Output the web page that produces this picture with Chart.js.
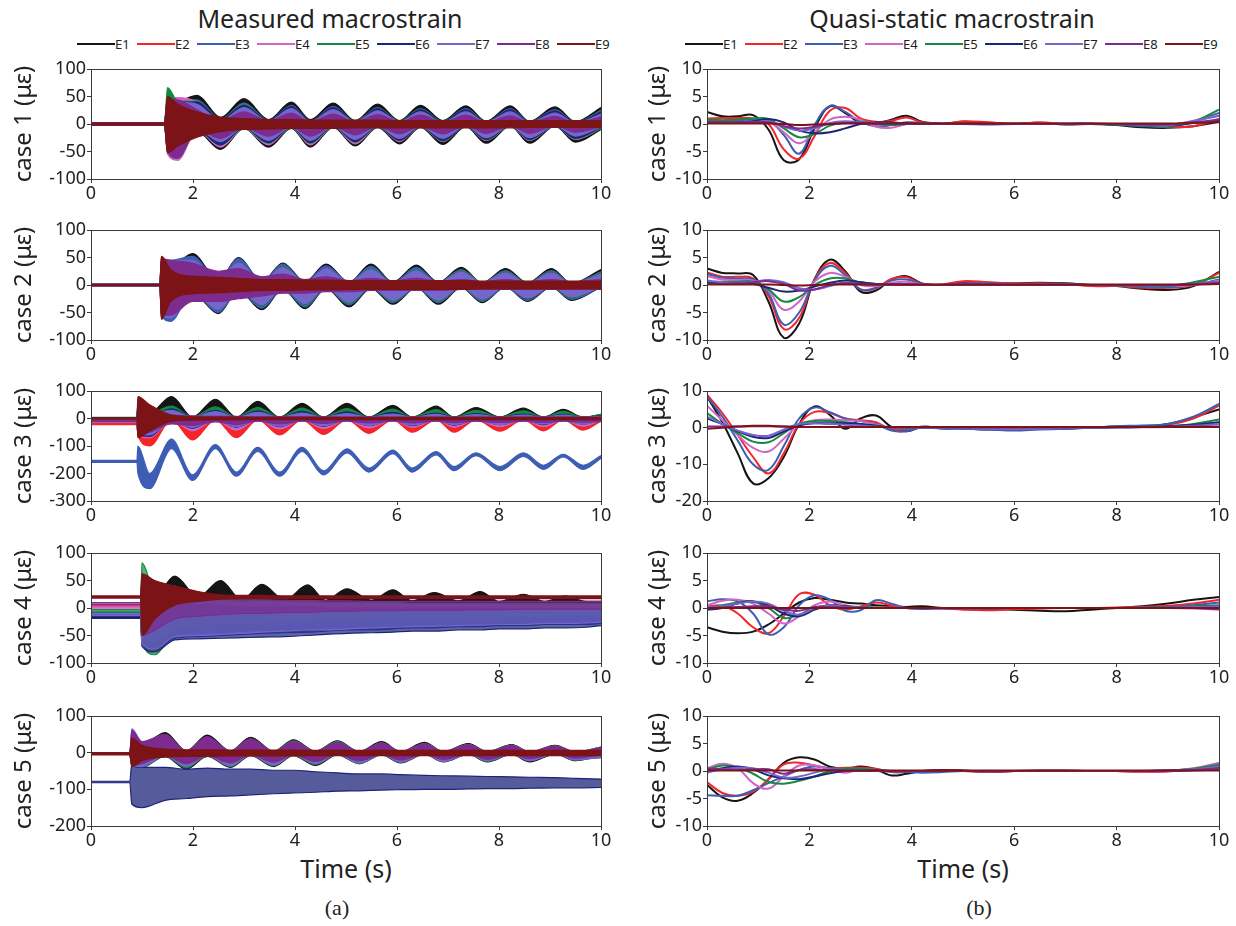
<!DOCTYPE html>
<html>
<head>
<meta charset="utf-8">
<script src="https://cdn.jsdelivr.net/npm/chart.js@4.4.1/dist/chart.umd.min.js"></script>
<style>
  body { margin: 0; width: 1236px; height: 926px; background: #fff; position: relative; overflow: hidden;
         font-family: "Noto Sans", sans-serif; color: #222; }
  .txt { position: absolute; white-space: nowrap; transform: translate(-50%, -50%); }
  .head { font-size: 25px; }
  .cap { font-family: "Liberation Serif", serif; font-size: 22px; }
  .legend { position: absolute; display: flex; align-items: center; font-size: 13px; height: 16px; }
  .legend .ln { display: inline-block; width: 38px; height: 2px; }
  .legend .lb { display: inline-block; width: 22px; text-align: left; line-height: 16px; }
  .pane { position: absolute; }
</style>
</head>
<body>
<div class="txt head" style="left:330px;top:18px">Measured macrostrain</div>
<div class="txt head" style="left:952px;top:18px">Quasi-static macrostrain</div>
<div class="legend" id="legA" style="left:77px;top:36px"></div>
<div class="legend" id="legB" style="left:685px;top:36px"></div>
<div class="txt head" style="left:346px;top:868px">Time (s)</div>
<div class="txt head" style="left:963px;top:868px">Time (s)</div>
<div class="txt cap" style="left:337px;top:908px">(a)</div>
<div class="txt cap" style="left:979px;top:908px">(b)</div>

<script>
const series = ['E1', 'E2', 'E3', 'E4', 'E5', 'E6', 'E7', 'E8', 'E9'];
const colors = ['#151515', '#f4262a', '#3d5db4', '#d264c6', '#158a3e', '#1d2479', '#7466cb', '#7e2b8f', '#7c1316'];
const caseNames = ['case 1 (με)', 'case 2 (με)', 'case 3 (με)', 'case 4 (με)', 'case 5 (με)'];

// measured macrostrain: envelope of each record (upper / lower)
const mTime1 = [0, 1.44, 1.5, 1.7, 2.08, 2.54, 3.0, 3.48, 3.93, 4.3, 4.75, 5.18, 5.62, 6.05, 6.46, 6.9, 7.35, 7.75, 8.22, 8.6, 9.1, 9.5, 10];
const mHi1 = [
  [2, 2, 48, 42, 52, 12, 46, 8, 40, 8, 38, 6, 36, 6, 34, 6, 33, 5, 33, 5, 31, 4, 30],
  [2, 2, 40, 30, 22, 4, 20, 3, 18, 3, 18, 3, 16, 3, 16, 2, 16, 2, 16, 2, 14, 2, 14],
  [2, 2, 50, 44, 44, 8, 38, 6, 34, 5, 32, 4, 30, 4, 28, 4, 28, 3, 28, 3, 26, 3, 25],
  [2, 2, 48, 48, 40, 8, 36, 5, 32, 5, 30, 4, 28, 4, 26, 4, 26, 3, 26, 3, 24, 3, 22],
  [2, 2, 66, 42, 41, 9, 36, 6, 32, 5, 30, 5, 28, 5, 27, 5, 26, 4, 26, 4, 24, 3, 23],
  [2, 2, 45, 40, 40, 8, 34, 6, 32, 5, 30, 4, 28, 4, 26, 4, 26, 3, 26, 3, 24, 3, 22],
  [2, 2, 45, 40, 36, 6, 30, 5, 28, 4, 26, 4, 24, 4, 22, 3, 22, 3, 22, 3, 20, 2, 18],
  [2, 2, 45, 44, 26, 6, 22, 5, 20, 4, 18, 4, 17, 4, 16, 3, 16, 3, 15, 3, 14, 2, 13],
  [2, 2, 50, 36, 22, 12, 10, 8, 8, 7, 7, 7, 7, 6, 6, 6, 6, 6, 6, 6, 6, 6, 6]
];
const mLo1 = [
  [-2, -2, -52, -60, -14, -46, -8, -42, -8, -42, -6, -40, -6, -36, -6, -37, -5, -35, -4, -35, -4, -33, -10],
  [-2, -2, -40, -40, -6, -22, -4, -20, -4, -20, -3, -18, -3, -16, -3, -18, -3, -16, -2, -16, -2, -15, -4],
  [-2, -2, -50, -58, -12, -40, -8, -36, -6, -36, -5, -34, -4, -30, -4, -30, -4, -30, -3, -30, -3, -28, -8],
  [-2, -2, -55, -66, -12, -42, -8, -38, -6, -38, -5, -36, -5, -32, -5, -32, -4, -30, -4, -30, -3, -28, -8],
  [-2, -2, -50, -62, -12, -38, -8, -35, -6, -35, -5, -33, -5, -30, -5, -31, -4, -29, -4, -29, -3, -27, -8],
  [-2, -2, -48, -55, -10, -38, -6, -34, -5, -34, -4, -32, -4, -30, -4, -30, -4, -28, -3, -28, -3, -26, -6],
  [-2, -2, -45, -55, -10, -32, -6, -30, -5, -30, -4, -28, -4, -26, -4, -26, -3, -25, -3, -25, -3, -22, -5],
  [-2, -2, -48, -62, -10, -26, -6, -22, -5, -22, -4, -20, -4, -18, -4, -18, -3, -17, -3, -17, -3, -15, -5],
  [-2, -2, -52, -40, -24, -14, -10, -9, -8, -8, -8, -7, -7, -7, -7, -7, -7, -7, -7, -6, -6, -6, -6]
];

const mTime2 = [0, 1.35, 1.38, 1.56, 1.99, 2.5, 2.89, 3.35, 3.76, 4.2, 4.61, 5.06, 5.49, 5.92, 6.38, 6.81, 7.26, 7.67, 8.13, 8.56, 9.03, 9.42, 10];
const mHi2 = [
  [1, 1, 20, 30, 57, 8, 50, 6, 40, 6, 38, 5, 38, 5, 36, 5, 32, 4, 30, 4, 30, 3, 28],
  [1, 1, 52, 30, 25, 4, 20, 3, 18, 3, 16, 3, 16, 3, 14, 3, 14, 2, 14, 2, 12, 2, 12],
  [1, 1, 45, 45, 52, 8, 48, 6, 38, 5, 35, 5, 34, 4, 32, 4, 28, 4, 26, 3, 26, 3, 24],
  [1, 1, 40, 40, 40, 6, 36, 5, 30, 5, 28, 4, 26, 4, 24, 4, 22, 3, 22, 3, 20, 3, 18],
  [1, 1, 42, 40, 45, 6, 40, 5, 34, 5, 30, 4, 30, 4, 28, 4, 26, 3, 24, 3, 24, 3, 22],
  [1, 1, 40, 40, 42, 6, 38, 5, 32, 4, 30, 4, 28, 4, 26, 4, 24, 3, 22, 3, 22, 3, 20],
  [1, 1, 45, 45, 45, 8, 40, 6, 32, 5, 30, 5, 28, 4, 26, 4, 24, 4, 22, 3, 22, 3, 20],
  [1, 1, 48, 45, 40, 25, 30, 15, 20, 10, 15, 8, 12, 8, 12, 7, 10, 6, 10, 6, 10, 6, 10],
  [1, 1, 52, 28, 16, 14, 12, 10, 10, 9, 9, 8, 8, 8, 8, 8, 8, 7, 7, 7, 7, 7, 7]
];
const mLo2 = [
  [-1, -1, -30, -60, -15, -52, -10, -45, -8, -43, -6, -40, -6, -35, -5, -35, -5, -32, -4, -30, -4, -28, -4],
  [-1, -1, -62, -50, -6, -30, -4, -22, -3, -20, -3, -20, -3, -18, -3, -18, -2, -16, -2, -16, -2, -14, -3],
  [-1, -1, -55, -66, -14, -50, -10, -42, -8, -40, -6, -36, -5, -32, -5, -32, -4, -30, -4, -28, -3, -26, -4],
  [-1, -1, -50, -55, -12, -40, -8, -34, -6, -32, -5, -30, -5, -28, -4, -28, -4, -25, -3, -24, -3, -22, -3],
  [-1, -1, -50, -58, -12, -44, -8, -38, -6, -36, -5, -34, -5, -30, -4, -30, -4, -28, -3, -26, -3, -24, -3],
  [-1, -1, -48, -55, -12, -42, -8, -36, -6, -34, -5, -32, -4, -28, -4, -28, -3, -26, -3, -25, -3, -22, -3],
  [-1, -1, -50, -60, -14, -44, -8, -36, -6, -34, -5, -32, -4, -28, -4, -28, -3, -26, -3, -24, -3, -22, -3],
  [-1, -1, -55, -55, -30, -30, -25, -20, -15, -15, -12, -12, -10, -10, -10, -10, -8, -8, -8, -8, -8, -8, -8],
  [-1, -1, -62, -30, -16, -14, -12, -10, -10, -9, -9, -8, -8, -8, -8, -8, -8, -7, -7, -7, -7, -7, -7]
];

const mTime3 = [0, 0.9, 0.92, 1.15, 1.58, 1.99, 2.44, 2.85, 3.27, 3.7, 4.14, 4.56, 5.02, 5.45, 5.92, 6.3, 6.77, 7.12, 7.55, 8.02, 8.48, 8.87, 9.26, 9.65, 10];
const mHi3 = [
  [3, 3, 40, 20, 80, 5, 70, 5, 62, 5, 55, 5, 55, 5, 48, 5, 45, 5, 40, 5, 38, 5, 33, 5, 15],
  [-18, -18, 10, -10, 5, -5, 5, -5, 5, -5, 5, -5, 5, -5, 5, -5, 5, -5, 5, -5, 5, -5, 5, -5, 0],
  [-152, -152, -100, -200, -75, -205, -95, -195, -105, -195, -105, -190, -110, -180, -115, -180, -120, -175, -125, -175, -125, -170, -130, -170, -135],
  [-8, -8, 40, 0, 20, 0, 15, 0, 12, 0, 10, 0, 10, 0, 8, 0, 8, 0, 8, 0, 6, 0, 6, 0, 5],
  [4, 4, 60, 20, 45, 5, 42, 5, 40, 5, 38, 5, 36, 5, 34, 5, 32, 5, 30, 5, 28, 5, 26, 5, 15],
  [2, 2, 50, 10, 35, 5, 30, 5, 28, 5, 26, 5, 24, 5, 22, 5, 20, 5, 18, 5, 16, 5, 15, 5, 10],
  [-6, -6, 45, 15, 30, 5, 25, 5, 22, 5, 20, 5, 18, 5, 16, 5, 15, 5, 14, 5, 12, 5, 12, 5, 8],
  [-8, -8, 60, 30, 12, 10, 8, 8, 6, 6, 6, 6, 5, 5, 5, 5, 5, 5, 5, 5, 5, 5, 5, 5, 5],
  [2, 2, 80, 50, 12, 6, 5, 5, 4, 4, 4, 4, 4, 4, 4, 4, 4, 4, 4, 4, 4, 4, 4, 4, 4]
];
const mLo3 = [
  [1, 1, -30, -50, 5, -35, 0, -30, 0, -30, 0, -30, 0, -25, 0, -25, 0, -25, 0, -22, 0, -20, 0, -20, 0],
  [-22, -22, -60, -100, -5, -78, -5, -70, -5, -60, -5, -58, -5, -54, -5, -50, -5, -50, -5, -46, -5, -45, -5, -42, -10],
  [-160, -160, -200, -255, -110, -225, -110, -210, -120, -210, -120, -205, -125, -195, -128, -195, -132, -190, -135, -190, -138, -185, -140, -185, -145],
  [-12, -12, -60, -70, -5, -45, -5, -42, -5, -38, -5, -36, -5, -34, -5, -32, -5, -32, -5, -30, -5, -30, -5, -28, -5],
  [0, 0, -60, -60, 0, -25, 0, -22, 0, -20, 0, -20, 0, -18, 0, -18, 0, -16, 0, -16, 0, -15, 0, -15, 0],
  [-2, -2, -60, -65, -5, -35, -5, -32, -5, -30, -5, -28, -5, -26, -5, -26, -5, -24, -5, -22, -5, -22, -5, -20, -5],
  [-10, -10, -55, -60, -8, -32, -8, -30, -8, -28, -8, -26, -8, -25, -8, -24, -8, -22, -8, -22, -8, -20, -8, -20, -8],
  [-12, -12, -60, -50, -20, -25, -12, -22, -10, -20, -10, -18, -10, -16, -10, -16, -10, -15, -10, -14, -10, -14, -10, -13, -10],
  [-2, -2, -70, -45, -10, -6, -5, -5, -4, -4, -4, -4, -4, -4, -4, -4, -4, -4, -4, -4, -4, -4, -4, -4, -4]
];

const mTime4 = [0, 0.97, 1.0, 1.25, 1.64, 2.1, 2.54, 2.95, 3.35, 3.8, 4.25, 4.6, 5.02, 5.5, 5.92, 6.3, 6.73, 7.2, 7.63, 8.0, 8.48, 8.9, 9.3, 9.7, 10];
const mHi4 = [
  [-13, -13, 60, 20, 58, 20, 50, 15, 43, 15, 42, 14, 35, 14, 33, 13, 28, 13, 30, 12, 25, 12, 22, 12, 12],
  [5, 5, 50, 30, 25, 15, 15, 12, 12, 12, 12, 10, 10, 10, 10, 8, 8, 8, 8, 8, 8, 8, 8, 6, 6],
  [-8, -8, 55, 25, 30, 15, 14, 12, 12, 12, 10, 10, 10, 8, 8, 8, 8, 8, 6, 6, 6, 6, 6, 6, 5],
  [2, 2, 50, 30, 25, 15, 15, 12, 12, 12, 10, 10, 10, 10, 8, 8, 8, 8, 8, 8, 8, 8, 8, 8, 8],
  [-3, -3, 82, 30, 40, 15, 20, 12, 15, 12, 12, 10, 10, 10, 10, 8, 8, 8, 8, 8, 8, 8, 8, 8, 8],
  [-15, -15, 40, 10, 15, 5, 5, 2, 2, 2, 2, 0, 0, 0, 0, 0, 0, 0, 0, -2, -2, -2, -2, -2, -2],
  [-10, -10, 45, 20, 20, 12, 12, 10, 10, 10, 8, 8, 8, 8, 6, 6, 6, 6, 6, 6, 5, 5, 5, 5, 5],
  [10, 10, 55, 40, 30, 20, 18, 16, 15, 14, 14, 13, 13, 12, 12, 12, 12, 12, 12, 12, 12, 12, 12, 12, 12],
  [22, 22, 62, 50, 40, 30, 24, 23, 23, 22, 22, 22, 22, 22, 22, 22, 22, 22, 22, 22, 22, 22, 22, 22, 22]
];
const mLo4 = [
  [-17, -17, -60, -70, -50, -45, -45, -42, -40, -40, -38, -36, -36, -34, -34, -32, -32, -30, -30, -30, -28, -28, -28, -26, -26],
  [2, 2, -50, -60, -40, -30, -28, -26, -25, -24, -22, -22, -20, -20, -18, -18, -16, -16, -15, -15, -14, -14, -12, -12, -10],
  [-12, -12, -65, -75, -55, -52, -50, -48, -46, -45, -44, -42, -40, -40, -38, -36, -36, -34, -34, -32, -32, -30, -30, -30, -28],
  [-2, -2, -55, -60, -35, -30, -26, -25, -24, -22, -22, -20, -20, -20, -18, -18, -16, -16, -15, -15, -14, -14, -12, -12, -12],
  [-7, -7, -60, -85, -45, -40, -36, -34, -32, -30, -28, -28, -26, -26, -24, -24, -22, -22, -20, -20, -18, -18, -16, -16, -15],
  [-19, -19, -70, -80, -58, -56, -55, -54, -53, -52, -50, -48, -46, -45, -44, -42, -42, -40, -40, -38, -38, -36, -36, -35, -32],
  [-14, -14, -65, -75, -52, -50, -48, -46, -44, -42, -40, -40, -38, -36, -35, -34, -33, -32, -31, -30, -30, -28, -28, -27, -26],
  [6, 6, -50, -40, -20, -15, -12, -10, -10, -8, -8, -6, -6, -5, -5, -4, -4, -4, -3, -3, -2, -2, -2, -2, -2],
  [18, 18, -50, -20, 5, 12, 16, 17, 17, 17, 17, 17, 17, 17, 17, 17, 17, 17, 17, 17, 17, 17, 17, 17, 17]
];

const mTime5 = [0, 0.76, 0.8, 1.0, 1.45, 1.87, 2.28, 2.73, 3.13, 3.58, 3.97, 4.4, 4.83, 5.26, 5.7, 6.07, 6.54, 6.91, 7.4, 7.77, 8.25, 8.6, 9.1, 9.5, 10];
const mHi5 = [
  [-1, -1, 30, 20, 55, 5, 48, 5, 42, 4, 35, 4, 32, 3, 30, 3, 28, 3, 25, 3, 22, 2, 20, 2, 15],
  [-1, -1, 40, 25, 20, 3, 18, 3, 16, 3, 14, 2, 12, 2, 12, 2, 12, 2, 10, 2, 10, 2, 10, 2, 8],
  [-1, -1, 45, 25, 40, 4, 36, 4, 32, 3, 28, 3, 25, 3, 22, 3, 20, 2, 18, 2, 16, 2, 15, 2, 12],
  [-1, -1, 50, 30, 45, 4, 40, 4, 35, 3, 30, 3, 28, 3, 26, 3, 24, 3, 22, 2, 20, 2, 18, 2, 14],
  [-1, -1, 40, 25, 48, 4, 42, 4, 38, 3, 32, 3, 30, 3, 26, 3, 24, 3, 22, 2, 20, 2, 18, 2, 15],
  [-78, -78, -30, -40, -40, -45, -42, -45, -45, -48, -48, -52, -55, -58, -58, -60, -62, -63, -64, -65, -66, -67, -68, -70, -72],
  [-1, -1, 65, 30, 42, 4, 38, 4, 34, 3, 30, 3, 26, 3, 24, 3, 22, 3, 20, 2, 18, 2, 16, 2, 14],
  [-1, -1, 60, 30, 50, 5, 44, 4, 38, 3, 30, 3, 28, 3, 26, 3, 24, 3, 22, 2, 20, 2, 18, 2, 14],
  [0, 0, 40, 20, 10, 8, 8, 7, 7, 7, 7, 6, 6, 6, 6, 6, 6, 6, 6, 6, 6, 6, 6, 6, 6]
];
const mLo5 = [
  [-5, -5, -35, -40, -10, -45, -10, -40, -8, -38, -8, -35, -6, -30, -6, -28, -5, -25, -5, -25, -5, -25, -4, -22, -8],
  [-5, -5, -30, -30, -5, -20, -5, -18, -4, -16, -4, -15, -4, -14, -4, -14, -4, -12, -3, -12, -3, -12, -3, -10, -5],
  [-5, -5, -30, -35, -8, -38, -8, -34, -6, -32, -6, -28, -5, -25, -5, -22, -4, -20, -4, -20, -4, -20, -3, -18, -14],
  [-5, -5, -30, -35, -8, -35, -8, -32, -6, -30, -6, -26, -5, -24, -5, -22, -4, -20, -4, -20, -4, -18, -3, -16, -8],
  [-5, -5, -35, -40, -8, -42, -8, -38, -6, -36, -6, -32, -5, -30, -5, -26, -4, -24, -4, -24, -4, -22, -3, -20, -8],
  [-82, -82, -140, -150, -130, -125, -120, -118, -115, -112, -110, -108, -105, -104, -102, -101, -100, -100, -99, -98, -98, -97, -96, -96, -95],
  [-5, -5, -35, -38, -8, -38, -8, -36, -6, -34, -6, -30, -5, -28, -5, -26, -4, -24, -4, -22, -4, -22, -3, -20, -12],
  [-5, -5, -35, -30, -8, -30, -8, -28, -6, -26, -6, -24, -5, -22, -5, -20, -4, -18, -4, -18, -4, -16, -3, -15, -6],
  [-6, -6, -38, -22, -12, -10, -10, -9, -9, -9, -9, -8, -8, -8, -8, -8, -8, -8, -8, -8, -8, -8, -8, -8, -8]
];

// quasi-static macrostrain
const qTime = [0, 0.3, 0.6, 0.9, 1.2, 1.5, 1.8, 2.1, 2.4, 2.7, 3.0, 3.3, 3.6, 3.9, 4.2, 4.6, 5.0, 5.5, 6.0, 6.5, 7.0, 7.5, 8.0, 8.5, 9.0, 9.5, 10];
const q1 = [
  [2.2, 1.4, 1.4, 1.6, -1.0, -6.6, -6.4, -0.8, 3.2, 2.0, 0.2, 0.1, 0.8, 1.5, 0.4, 0.1, 0.4, 0.2, 0.1, 0.2, -0.1, 0.0, -0.2, -0.6, -0.7, -0.4, 0.4],
  [1.0, 1.1, 1.1, 1.0, 0.0, -4.6, -6.3, -2.2, 2.4, 2.9, 1.0, 0.4, 0.6, 1.2, 0.3, 0.0, 0.5, 0.3, 0.0, 0.3, 0.0, 0.1, 0.0, -0.3, -0.5, -0.4, 0.9],
  [0.7, 0.6, 0.6, 0.8, 0.6, -2.0, -5.4, -0.2, 3.3, 2.2, 0.4, -0.4, -0.2, 0.3, 0.2, 0.0, 0.0, -0.1, 0.0, 0.0, 0.1, 0.1, -0.1, -0.4, -0.3, 0.5, 2.0],
  [0.4, 0.3, 0.3, 0.5, 0.4, -1.5, -3.5, -1.5, 0.8, 1.3, 0.8, -0.5, -0.7, 0.0, 0.1, 0.0, 0.1, 0.0, 0.0, 0.1, 0.0, 0.0, 0.0, -0.2, -0.2, 0.6, 1.5],
  [0.8, 0.7, 0.8, 1.0, 0.9, -0.8, -2.4, -1.8, -0.3, 0.3, 0.4, 0.1, -0.2, 0.0, 0.1, 0.0, 0.1, 0.0, 0.0, 0.0, 0.0, 0.0, -0.1, -0.3, -0.5, 0.4, 2.6],
  [0.3, 0.3, 0.3, 0.5, 0.9, 0.3, -1.2, -1.7, -1.5, -0.8, 0.0, 0.3, 0.3, 0.1, 0.0, 0.0, 0.0, 0.0, 0.0, 0.0, 0.0, 0.0, 0.0, -0.2, -0.3, 0.2, 0.6],
  [0.2, 0.2, 0.2, 0.3, 0.5, -0.5, -1.2, -0.8, 0.2, 0.5, 0.3, 0.2, 0.1, 0.0, 0.0, 0.0, 0.0, 0.0, 0.0, 0.0, 0.0, 0.0, 0.0, -0.2, -0.3, 0.5, 1.5],
  [0.3, 0.3, 0.3, 0.3, 0.3, -0.4, -0.8, -0.5, 0.0, 0.2, 0.2, 0.1, 0.1, 0.0, 0.0, 0.0, 0.0, 0.0, 0.0, 0.0, 0.0, 0.0, 0.0, -0.1, -0.1, 0.3, 0.8],
  [0.1, 0.1, 0.1, 0.1, 0.1, 0.0, -0.2, -0.1, 0.0, 0.1, 0.1, 0.1, 0.1, 0.1, 0.1, 0.1, 0.1, 0.1, 0.1, 0.1, 0.1, 0.1, 0.1, 0.1, 0.1, 0.2, 0.3]
];
const q2 = [
  [3.0, 2.2, 2.1, 1.8, -3.0, -9.6, -7.0, 1.0, 4.6, 2.5, -1.2, -1.0, 1.0, 1.6, 0.3, 0.0, 0.5, 0.4, 0.3, 0.4, 0.3, 0.0, -0.2, -0.7, -0.9, -0.2, 2.4],
  [2.3, 1.5, 1.5, 1.2, -2.0, -8.0, -6.0, 1.0, 4.0, 2.2, -0.8, -0.6, 1.1, 1.4, 0.2, 0.1, 0.7, 0.5, 0.3, 0.3, 0.2, -0.2, -0.2, -0.5, -0.5, 0.0, 2.2],
  [2.0, 1.3, 1.2, 1.0, -1.5, -7.2, -5.0, 0.8, 3.5, 1.8, -0.8, -0.5, 0.8, 1.0, 0.2, 0.0, 0.3, 0.3, 0.2, 0.2, 0.2, 0.0, -0.1, -0.3, -0.4, 0.0, 1.0],
  [1.6, 1.0, 0.9, 0.8, -1.0, -4.5, -3.0, 0.6, 2.2, 1.5, 0.0, -0.2, 0.4, 0.6, 0.1, 0.0, 0.2, 0.2, 0.1, 0.1, 0.1, 0.0, 0.0, -0.2, -0.2, 0.0, 0.8],
  [0.5, 0.6, 0.6, 0.6, -0.8, -3.0, -2.2, 0.0, 1.2, 1.2, 0.5, 0.2, 0.1, 0.2, 0.0, 0.0, 0.1, 0.1, 0.0, 0.0, 0.0, 0.0, 0.0, -0.2, -0.2, 0.5, 1.5],
  [0.3, 0.3, 0.3, 0.2, -0.5, -1.2, -1.0, -0.3, 0.4, 0.8, 0.5, 0.2, 0.1, 0.1, 0.0, 0.0, 0.1, 0.1, 0.0, 0.0, 0.0, 0.0, 0.0, -0.1, -0.1, 0.2, 0.5],
  [0.8, 0.5, 0.4, 0.6, 0.9, 0.5, -0.6, -0.8, -0.2, 0.5, 0.2, 0.1, 0.1, 0.1, 0.0, 0.0, 0.1, 0.1, 0.0, 0.0, 0.0, 0.0, 0.0, -0.1, -0.1, 0.2, 0.6],
  [0.2, 0.2, 0.3, 0.5, 0.7, 0.2, -1.0, -0.8, 0.0, 0.3, 0.2, 0.1, 0.1, 0.0, 0.0, 0.0, 0.0, 0.0, 0.0, 0.0, 0.0, 0.0, 0.0, 0.0, 0.0, 0.1, 0.4],
  [0.1, 0.1, 0.1, 0.1, 0.1, 0.0, -0.1, 0.0, 0.1, 0.1, 0.1, 0.1, 0.1, 0.1, 0.1, 0.1, 0.1, 0.1, 0.1, 0.1, 0.1, 0.1, 0.1, 0.1, 0.1, 0.1, 0.2]
];
const q3 = [
  [8.5, 1.5, -7.0, -15.2, -13.8, -8.0, 1.0, 5.8, 3.5, -0.3, 2.5, 3.3, 0.2, -1.0, 0.2, 0.0, -0.2, -0.5, -0.4, -0.3, -0.3, 0.0, 0.3, 0.3, 1.0, 2.8, 5.0],
  [9.0, 4.0, -2.0, -8.0, -12.5, -7.0, 1.0, 4.3, 4.0, 2.5, 2.0, 1.5, -0.5, -0.4, 0.0, -0.2, -0.2, -0.4, -0.4, -0.3, -0.2, 0.0, 0.2, 0.3, 0.8, 2.5, 6.0],
  [8.5, 3.0, -3.5, -10.0, -11.5, -5.0, 2.5, 5.5, 4.2, 2.5, 1.8, 1.0, -0.8, -1.0, 0.3, -0.3, -0.3, -0.5, -0.8, -0.5, -0.3, 0.0, 0.4, 0.6, 1.0, 3.0, 6.5],
  [6.0, 2.0, -2.0, -5.5, -6.5, -3.0, 0.8, 2.0, 2.2, 2.0, 1.8, 0.8, 0.0, -0.2, 0.0, 0.0, -0.1, -0.2, -0.2, -0.2, -0.1, 0.0, 0.1, 0.2, 0.4, 0.8, 1.5],
  [4.0, 1.0, -1.5, -3.8, -4.0, -1.5, 1.0, 1.8, 1.8, 1.5, 1.0, 0.5, 0.0, -0.2, 0.0, 0.0, 0.0, -0.1, -0.1, -0.1, 0.0, 0.0, 0.1, 0.2, 0.4, 1.0, 2.2],
  [2.5, 1.0, -1.0, -2.5, -2.8, -1.0, 0.6, 1.2, 1.2, 1.2, 1.0, 0.5, 0.0, -0.1, 0.0, 0.0, 0.0, -0.1, -0.1, 0.0, 0.0, 0.0, 0.1, 0.2, 0.4, 0.8, 1.5],
  [3.0, 1.0, -0.8, -2.0, -2.2, -0.5, 1.0, 1.2, 1.0, 0.8, 0.6, 0.3, 0.0, 0.0, 0.0, 0.0, 0.0, 0.0, 0.0, 0.0, 0.0, 0.0, 0.1, 0.1, 0.2, 0.5, 1.0],
  [0.3, 0.3, 0.3, 0.4, 0.4, 0.3, 0.2, 0.2, 0.2, 0.2, 0.2, 0.2, 0.2, 0.2, 0.2, 0.2, 0.2, 0.2, 0.2, 0.2, 0.2, 0.2, 0.2, 0.2, 0.2, 0.3, 0.3],
  [-0.3, 0.0, 0.3, 0.5, 0.5, 0.3, 0.2, 0.2, 0.2, 0.2, 0.2, 0.2, 0.2, 0.2, 0.2, 0.2, 0.2, 0.2, 0.2, 0.2, 0.2, 0.2, 0.2, 0.2, 0.2, 0.2, 0.2]
];
const q4 = [
  [-3.5, -4.3, -4.6, -4.3, -3.0, -1.0, 1.0, 1.8, 1.5, 1.0, 0.8, 0.5, 0.3, 0.2, 0.3, 0.0, -0.2, -0.3, -0.3, -0.5, -0.6, -0.3, 0.0, 0.3, 0.8, 1.5, 2.0],
  [0.3, 0.4, -1.0, -3.5, -4.6, -1.5, 2.5, 2.4, 0.5, -0.3, 0.3, 1.0, 0.5, 0.0, 0.0, -0.1, -0.3, -0.4, -0.2, -0.1, 0.0, 0.0, 0.1, 0.2, 0.4, 0.8, 1.5],
  [1.2, 1.6, 1.2, -1.0, -4.8, -3.5, 0.5, 2.3, 1.5, -0.5, -0.4, 1.4, 0.8, 0.0, -0.2, -0.1, -0.1, -0.1, 0.0, 0.0, 0.0, 0.0, 0.0, 0.1, 0.2, 0.5, 1.0],
  [0.5, 1.3, 1.5, 0.8, -1.0, -2.8, -1.5, 0.5, 1.2, 0.5, 0.0, 0.1, 0.1, 0.0, 0.0, 0.0, 0.0, 0.0, 0.0, 0.0, 0.0, 0.0, 0.0, 0.0, 0.0, -0.1, -0.3],
  [0.0, 0.5, 1.0, 1.2, 0.0, -1.8, -1.2, 0.0, 0.5, 0.3, 0.2, 0.1, 0.0, 0.0, 0.0, 0.0, 0.0, 0.0, 0.0, 0.0, 0.0, 0.0, 0.0, 0.0, 0.1, 0.3, 0.5],
  [-0.3, 0.0, 0.8, 1.2, 0.5, -1.0, -1.5, -0.3, 0.5, 0.3, 0.1, 0.0, 0.0, 0.0, 0.0, 0.0, 0.0, 0.0, 0.0, 0.0, 0.0, 0.0, 0.0, 0.0, 0.1, 0.2, 0.3],
  [0.2, 0.3, 0.8, 1.2, 0.8, -0.5, -1.2, 0.0, 0.5, 0.2, 0.1, 0.0, 0.0, 0.0, 0.0, 0.0, 0.0, 0.0, 0.0, 0.0, 0.0, 0.0, 0.0, 0.0, 0.1, 0.2, 0.3],
  [0.0, 0.1, 0.2, 0.3, 0.3, -0.3, -0.5, 0.2, 0.2, 0.1, 0.0, 0.0, 0.0, 0.0, 0.0, 0.0, 0.0, 0.0, 0.0, 0.0, 0.0, 0.0, 0.0, 0.0, 0.0, 0.0, -0.2],
  [0.0, 0.0, 0.0, 0.0, 0.0, 0.0, 0.0, 0.0, 0.0, 0.0, 0.0, 0.0, 0.0, 0.0, 0.0, 0.0, 0.0, 0.0, 0.0, 0.0, 0.0, 0.0, 0.0, 0.0, 0.0, 0.0, 0.0]
];
const q5 = [
  [-2.5, -4.8, -5.4, -4.0, -1.5, 1.5, 2.5, 2.1, 0.8, 0.4, 0.8, 0.3, -0.8, -0.5, 0.0, 0.2, 0.1, -0.2, 0.0, 0.1, 0.1, 0.0, 0.0, -0.1, 0.0, 0.3, 0.6],
  [-2.0, -4.0, -4.5, -3.8, -1.5, 1.2, 1.5, 1.0, 0.5, 0.6, 0.6, 0.4, -0.2, -0.2, 0.0, 0.1, 0.0, -0.2, 0.0, 0.0, 0.0, 0.0, 0.0, -0.2, -0.1, 0.3, 1.0],
  [-4.4, -4.5, -4.5, -3.5, -2.2, -1.0, 0.2, 0.8, 0.5, 0.3, 0.2, 0.0, -0.1, -0.2, -0.3, -0.2, 0.0, -0.1, 0.0, 0.0, 0.0, 0.0, 0.0, 0.0, 0.0, 0.1, 0.3],
  [0.5, 1.3, 0.5, -2.2, -3.2, -1.0, 1.0, 1.0, 0.3, -0.3, 0.3, 0.2, 0.0, 0.0, 0.0, 0.0, 0.0, 0.0, 0.0, 0.0, 0.0, 0.0, 0.0, -0.1, 0.0, 0.5, 1.5],
  [0.2, 1.0, 0.6, -0.5, -2.0, -2.3, -1.8, -1.0, 0.0, 0.5, 0.4, 0.2, 0.0, 0.0, 0.0, 0.0, 0.0, 0.0, 0.0, 0.0, 0.0, 0.0, 0.0, 0.0, 0.1, 0.4, 1.2],
  [0.0, 0.5, 0.8, 0.3, -0.8, -1.3, -1.5, -1.0, -0.4, 0.0, 0.1, 0.1, 0.0, 0.0, 0.0, 0.0, 0.0, 0.0, 0.0, 0.0, 0.0, 0.0, 0.0, 0.0, 0.1, 0.2, 0.5],
  [-0.3, 0.3, 0.6, 0.5, -0.3, -1.2, -1.0, -0.3, 0.3, 0.2, 0.1, 0.0, 0.0, 0.0, 0.0, 0.0, 0.0, 0.0, 0.0, 0.0, 0.0, 0.0, 0.0, 0.0, 0.1, 0.3, 0.8],
  [0.5, 0.3, 0.2, 0.3, 0.3, -0.5, 0.2, 0.3, 0.2, 0.1, 0.0, 0.0, 0.0, 0.0, 0.0, 0.0, 0.0, 0.0, 0.0, 0.0, 0.0, 0.0, 0.0, 0.0, 0.1, 0.2, 0.5],
  [0.1, 0.1, 0.1, 0.1, 0.1, 0.1, 0.1, 0.1, 0.1, 0.1, 0.1, 0.1, 0.1, 0.1, 0.1, 0.1, 0.1, 0.1, 0.1, 0.1, 0.1, 0.1, 0.1, 0.1, 0.1, 0.1, 0.1]
];

// y axis [min, max, step]
const mRange = [[-100, 100, 50], [-100, 100, 50], [-300, 100, 100], [-100, 100, 50], [-200, 100, 100]];
const qRange = [[-10, 10, 5], [-10, 10, 5], [-20, 10, 5], [-10, 10, 5], [-10, 10, 5]];

const measured = [
  [mTime1, mHi1, mLo1], [mTime2, mHi2, mLo2], [mTime3, mHi3, mLo3], [mTime4, mHi4, mLo4], [mTime5, mHi5, mLo5]
];
const quasi = [q1, q2, q3, q4, q5];

const FONT = '"Noto Sans", sans-serif';
const rowTop = [69, 230, 391, 553, 716];
const plotH = 110;

function xy(t, v) {
  return t.map((x, i) => ({ x: x, y: v[i] }));
}

function rgba(hex, a) {
  const n = parseInt(hex.slice(1), 16);
  return 'rgba(' + (n >> 16) + ',' + ((n >> 8) & 255) + ',' + (n & 255) + ',' + a + ')';
}

// draws the frame round the plot area
const frame = {
  id: 'frame',
  afterDatasetsDraw(chart) {
    const a = chart.chartArea, ctx = chart.ctx;
    ctx.save();
    ctx.strokeStyle = '#3a3a3a';
    ctx.lineWidth = 1;
    ctx.strokeRect(Math.round(a.left) + 0.5, Math.round(a.top) + 0.5, Math.round(a.right - a.left), Math.round(a.bottom - a.top));
    ctx.restore();
  }
};

function makeChart(left, top, width, yWidth, padR, range, label, datasets) {
  const div = document.createElement('div');
  div.className = 'pane';
  div.style.left = left + 'px';
  div.style.top = (top - 12) + 'px';
  const cv = document.createElement('canvas');
  const h = 12 + plotH + 30;
  cv.width = width; cv.height = h;
  cv.style.width = width + 'px'; cv.style.height = h + 'px';
  div.appendChild(cv);
  document.body.appendChild(div);

  new Chart(cv, {
    type: 'line',
    data: { datasets: datasets },
    plugins: [frame],
    options: {
      responsive: false,
      animation: false,
      devicePixelRatio: 1,
      layout: { padding: { top: 12, right: padR, left: 0, bottom: 0 } },
      plugins: { legend: { display: false }, tooltip: { enabled: false } },
      elements: { point: { radius: 0 } },
      scales: {
        x: {
          type: 'linear', min: 0, max: 10,
          ticks: { stepSize: 2, color: '#222', font: { family: FONT, size: 18 }, padding: 0, maxRotation: 0 },
          grid: { display: true, drawOnChartArea: false, tickLength: 4, color: '#3a3a3a' },
          border: { color: '#3a3a3a' },
          afterFit(s) { s.height = 30; }
        },
        y: {
          min: range[0], max: range[1],
          ticks: { stepSize: range[2], color: '#222', font: { family: FONT, size: 18 }, padding: 1 },
          grid: { display: true, drawOnChartArea: false, tickLength: 4, color: '#3a3a3a' },
          border: { color: '#3a3a3a' },
          title: { display: true, text: label, color: '#222', font: { family: FONT, size: 24 }, padding: 0 },
          afterFit(s) { s.width = yWidth; }
        }
      }
    }
  });
}

// legends
function legend(id) {
  const el = document.getElementById(id);
  series.forEach((s, i) => {
    const ln = document.createElement('span');
    ln.className = 'ln';
    ln.style.background = colors[i];
    const lb = document.createElement('span');
    lb.className = 'lb';
    lb.textContent = s;
    el.appendChild(ln);
    el.appendChild(lb);
  });
}
legend('legA');
legend('legB');

// left column: measured records as envelope bands
measured.forEach((m, r) => {
  const [t, hi, lo] = m;
  const ds = [];
  series.forEach((s, k) => {
    // the slower, resolved oscillations (case 4 cluster, case 5 E6) leave white gaps: lighter fill
    let a = 1;
    if (r === 3 && k > 0 && k < 8) a = 0.7;
    if (r === 4 && k === 5) a = 0.75;
    ds.push({ label: s, data: xy(t, hi[k]), borderColor: colors[k], backgroundColor: rgba(colors[k], a),
              borderWidth: 1.2, fill: '+1', order: 9 - k, cubicInterpolationMode: 'monotone' });
    ds.push({ label: s + ' low', data: xy(t, lo[k]), borderColor: colors[k], backgroundColor: rgba(colors[k], a),
              borderWidth: 1.2, fill: false, order: 9 - k, cubicInterpolationMode: 'monotone' });
  });
  makeChart(10, rowTop[r], 610, 81, 19, mRange[r], caseNames[r], ds);
});

// right column: quasi-static lines
quasi.forEach((q, r) => {
  const ds = series.map((s, k) => ({
    label: s, data: xy(qTime, q[k]), borderColor: colors[k], backgroundColor: colors[k],
    borderWidth: 2, fill: false, order: 9 - k, tension: 0.4
  }));
  makeChart(644, rowTop[r], 592, 63, 17, qRange[r], caseNames[r], ds);
});
</script>
</body>
</html>
